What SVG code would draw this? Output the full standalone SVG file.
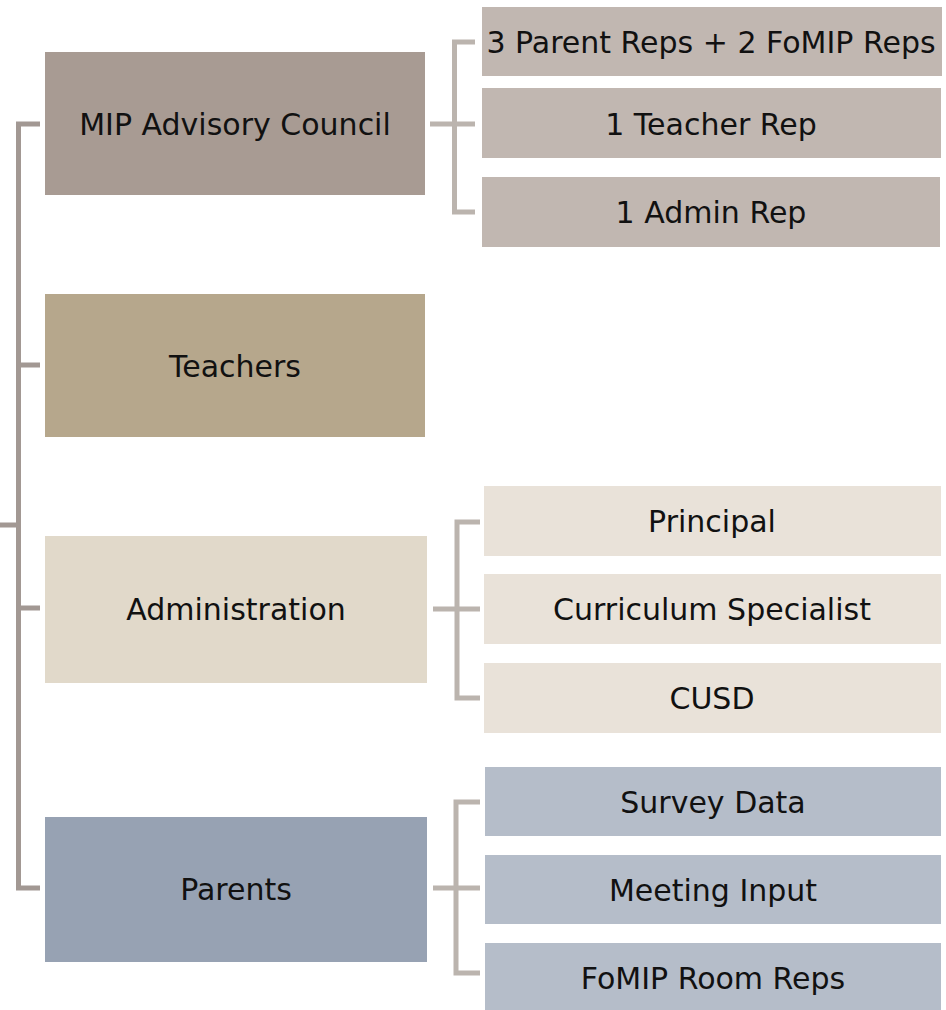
<svg xmlns="http://www.w3.org/2000/svg" width="946" height="1010" viewBox="0 0 946 1010">
<style>
text{font-family:"DejaVu Sans","Liberation Sans",sans-serif;font-size:30px;fill:#111;text-anchor:middle}
.main{fill:none;stroke:#a29893;stroke-width:5}
.sub{fill:none;stroke:#bbb4ae;stroke-width:5}
.m1{fill:#a89b93}.m2{fill:#b6a78c}.m3{fill:#e1d9ca}.m4{fill:#97a2b3}
.s1{fill:#c1b7b1}.s3{fill:#e9e2d9}.s4{fill:#b5bdc9}
</style>
<rect width="946" height="1010" fill="#fff"/>
<g id="connectors">
<path class="main" d="M0 525H18.5M40 124H18.5V888H40M18.5 365H40M18.5 608H40"/>
<path class="sub" d="M430 124H475M475 42H454.5V212H475"/>
<path class="sub" d="M433 609H480M480 522H457V698H480"/>
<path class="sub" d="M433 888H480M480 802H456V973H480"/>
</g>
<g id="mip"><rect class="m1" x="45" y="52" width="380" height="143"/><text x="235" y="135">MIP Advisory Council</text></g>
<g id="teachers"><rect class="m2" x="45" y="294" width="380" height="143"/><text x="235" y="377">Teachers</text></g>
<g id="administration"><rect class="m3" x="45" y="536" width="382" height="147"/><text x="236" y="620">Administration</text></g>
<g id="parents"><rect class="m4" x="45" y="817" width="382" height="145"/><text x="236" y="900">Parents</text></g>
<g id="reps"><rect class="s1" x="482" y="7" width="460" height="69"/><text x="711" y="53" font-size="29">3 Parent Reps + 2 FoMIP Reps</text></g>
<g id="teacher-rep"><rect class="s1" x="482" y="88" width="459" height="70"/><text x="711" y="135">1 Teacher Rep</text></g>
<g id="admin-rep"><rect class="s1" x="482" y="177" width="458" height="70"/><text x="711" y="223">1 Admin Rep</text></g>
<g id="principal"><rect class="s3" x="484" y="486" width="457" height="70"/><text x="712" y="532">Principal</text></g>
<g id="curriculum"><rect class="s3" x="484" y="574" width="457" height="70"/><text x="712" y="620">Curriculum Specialist</text></g>
<g id="cusd"><rect class="s3" x="484" y="663" width="457" height="70"/><text x="712" y="709">CUSD</text></g>
<g id="survey"><rect class="s4" x="485" y="767" width="456" height="69"/><text x="713" y="813">Survey Data</text></g>
<g id="meeting"><rect class="s4" x="485" y="855" width="456" height="69"/><text x="713" y="901">Meeting Input</text></g>
<g id="room-reps"><rect class="s4" x="485" y="943" width="456" height="69"/><text x="713" y="989">FoMIP Room Reps</text></g>
</svg>
